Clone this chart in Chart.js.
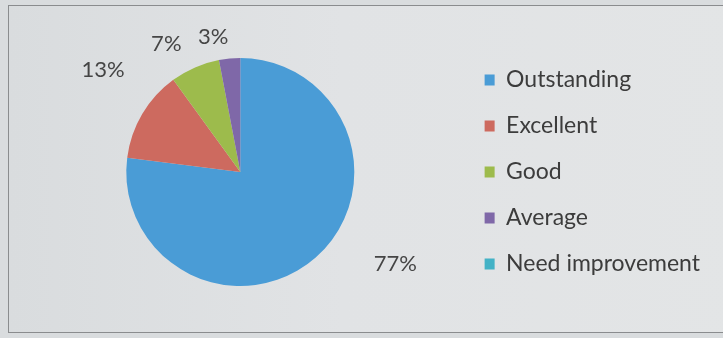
<!DOCTYPE html>
<html>
<head>
<meta charset="utf-8">
<script src="https://cdn.jsdelivr.net/npm/chart.js@4.4.1/dist/chart.umd.min.js"></script>
<style>
  html, body { margin: 0; padding: 0; }
  body { width: 723px; height: 338px; background: #d9dcde; position: relative; overflow: hidden; }
  #frame { position: absolute; left: 8px; top: 5px; width: 740px; height: 326px;
           border: 1.5px solid #8a8c8e;
           background: linear-gradient(90deg, #d9dcde 0%, #e1e3e5 45%, #e3e5e6 100%); }
  #wrap { position: absolute; left: 0; top: 0; width: 723px; height: 338px; }
</style>
</head>
<body>
<div id="frame"></div>
<div id="wrap"><canvas id="ratingChart" width="723" height="338"></canvas></div>
<script>
// chart data
const categories = ["Outstanding", "Excellent", "Good", "Average", "Need improvement"];
const shares = [77, 13, 7, 3, 0];
const pctLabels = ["77%", "13%", "7%", "3%", ""];
const sliceColors = ["#4a9cd6", "#cd6a5f", "#9dbb4c", "#7f68a8", "#43b2c6"];

// where each percentage sits: fraction along the slice, distance in radii
const labelSpots = [[0.435, 1.58], [0.63, 1.50], [0.24, 1.30], [-0.05, 1.21], [0.5, 1.3]];

const pctLabelPlugin = {
  id: "pctLabels",
  afterDatasetsDraw(chart) {
    const ctx = chart.ctx;
    const arcs = chart.getDatasetMeta(0).data;
    ctx.save();
    ctx.font = "22px Lato";
    ctx.fillStyle = "#454545";
    ctx.textAlign = "center";
    ctx.textBaseline = "middle";
    arcs.forEach((arc, i) => {
      if (!pctLabels[i]) return;
      const p = arc.getProps(["x", "y", "startAngle", "endAngle", "outerRadius"], true);
      const [frac, dist] = labelSpots[i];
      const a = p.startAngle + frac * (p.endAngle - p.startAngle);
      ctx.fillText(pctLabels[i], p.x + Math.cos(a) * p.outerRadius * dist,
                                 p.y + Math.sin(a) * p.outerRadius * dist);
    });
    ctx.restore();
  }
};

new Chart(document.getElementById("ratingChart"), {
  type: "pie",
  data: {
    labels: categories,
    datasets: [{
      data: shares,
      backgroundColor: sliceColors,
      borderWidth: 0,
      radius: 114
    }]
  },
  options: {
    responsive: false,
    animation: false,
    layout: { padding: { top: 16, bottom: 10, left: 19, right: 13 } },
    plugins: {
      tooltip: { enabled: false },
      legend: {
        position: "right",
        labels: {
          boxWidth: 10,
          boxHeight: 11,
          padding: 23,
          color: "#3c3c3c",
          font: { family: "Lato", size: 23 }
        }
      }
    }
  },
  plugins: [pctLabelPlugin]
});
</script>
</body>
</html>
